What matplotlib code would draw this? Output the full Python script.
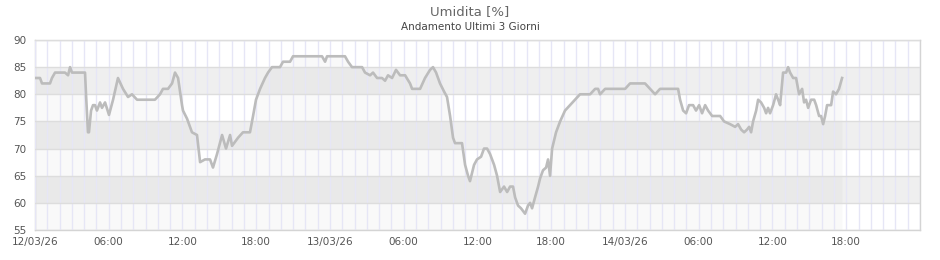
import numpy as np
import pandas as pd
import matplotlib
matplotlib.use("Agg")
import matplotlib.pyplot as plt
import matplotlib.dates as mdates
from matplotlib.ticker import FuncFormatter, MultipleLocator

# hours since 12/03/26 00:00 and humidity readings
ore = [0.0, 0.41, 0.57, 1.22, 1.38, 1.63, 2.44, 2.69, 2.85, 3.01, 4.07, 4.15, 4.31, 4.39,
       4.56, 4.72, 4.88, 5.04, 5.29, 5.45, 5.70, 6.02, 6.35, 6.75, 7.16, 7.57, 7.89, 8.30,
       9.76, 10.17, 10.41, 10.82, 11.15, 11.39, 11.64, 11.96, 12.04, 12.37, 12.77, 13.18,
       13.43, 13.83, 14.24, 14.48, 14.81, 15.22, 15.54, 15.87, 16.03, 16.52, 16.92, 17.49,
       17.74, 17.98, 18.31, 18.71, 18.96, 19.28, 19.93, 20.18, 20.75, 20.99, 23.35, 23.60,
       23.76, 25.22, 25.47, 25.79, 26.61, 26.85, 27.26, 27.50, 27.83, 28.23, 28.48, 28.72,
       29.05, 29.37, 29.70, 30.11, 30.51, 30.68, 31.33, 31.73, 32.14, 32.38, 32.63, 32.95,
       33.28, 33.52, 33.77, 34.01, 34.17, 34.74, 34.99, 35.23, 35.39, 35.72, 35.96, 36.29,
       36.53, 36.78, 37.02, 37.35, 37.59, 37.84, 38.16, 38.41, 38.65, 38.89, 39.06, 39.30,
       39.54, 39.87, 40.11, 40.28, 40.44, 40.68, 40.93, 41.09, 41.33, 41.58, 41.74, 41.90,
       42.07, 42.39, 42.72, 43.12, 43.53, 43.94, 44.34, 45.16, 45.57, 45.81, 45.97, 46.38,
       48.01, 48.41, 49.63, 50.04, 50.45, 50.85, 52.32, 52.48, 52.73, 52.97, 53.21, 53.54,
       53.78, 54.03, 54.27, 54.52, 54.76, 55.09, 55.74, 56.06, 56.55, 56.96, 57.20, 57.45,
       57.69, 57.93, 58.10, 58.26, 58.42, 58.67, 58.83, 59.07, 59.32, 59.48, 59.64, 59.80,
       60.05, 60.29, 60.46, 60.62, 60.86, 61.11, 61.27, 61.43, 61.68, 61.92, 62.16, 62.41,
       62.57, 62.73, 62.90, 63.14, 63.39, 63.55, 63.79, 63.95, 64.12, 64.28, 64.44, 64.77,
       64.93, 65.17, 65.41, 65.66]
umidita = [83, 83, 82, 82, 83, 84, 84, 83.5, 85, 84, 84, 80, 73, 73,
           77, 78, 78, 77, 78.5, 77.5, 78.5, 76.2, 79, 83, 81, 79.5, 80, 79,
           79, 80, 81, 81, 82, 84, 83, 78, 77, 75.5, 73, 72.5,
           67.5, 68, 68, 66.5, 69, 72.5, 70, 72.5, 70.5, 72, 73, 73,
           76, 79, 81, 83, 84, 85, 85, 86, 86, 87, 87, 86,
           87, 87, 86, 85, 85, 84, 83.5, 84, 83, 83, 82.5, 83.5,
           83, 84.5, 83.5, 83.5, 82, 81, 81, 83, 84.5, 85, 84, 82,
           80.5, 79.5, 76, 72, 71, 71, 67, 65, 64, 67, 68, 68.5,
           70, 70, 69, 67, 65, 62, 63, 62, 63, 63, 61, 59.5,
           59, 58, 59.5, 60, 59, 61, 63, 64.5, 66, 66.5, 68, 65,
           70, 73, 75, 77, 78, 79, 80, 80, 81, 81, 80, 81,
           81, 82, 82, 81, 80, 81, 81, 79, 77, 76.5, 78, 78,
           77, 78, 76.5, 78, 77, 76, 76, 75, 74.5, 74, 74.5, 73.5,
           73, 73.5, 74, 73, 75, 77, 79, 78.5, 77.5, 76.5, 77.5, 76.5,
           78, 80, 79, 78, 84, 84, 85, 84, 83, 83, 80, 81,
           78.5, 79, 77.5, 79, 79, 78, 76, 76, 74.5, 76, 78, 78,
           80.5, 80, 81, 83]

titolo = "Umidita [%]"
sottotitolo = "Andamento Ultimi 3 Giorni"
inizio = pd.Timestamp("2026-03-12 00:00")

tempi = inizio + pd.to_timedelta(ore, unit="h")

fig = plt.figure(figsize=(9.4, 2.6), dpi=100)
ax = fig.add_axes([35 / 940, 30 / 260, 885 / 940, 190 / 260])

# fasce alternate
for y0 in range(60, 90, 10):
    ax.axhspan(y0, y0 + 5, color="#efefef", lw=0, zorder=0)

ax.fill_between(tempi, 55, umidita, color="black", alpha=0.025, lw=0, zorder=1)
ax.plot(tempi, umidita, color="#bcbcbc", lw=1.9, zorder=3, solid_joinstyle="round")

ax.set_ylim(55, 90)
ax.set_xlim(inizio, inizio + pd.Timedelta(hours=72))
ax.yaxis.set_major_locator(MultipleLocator(5))
ax.set_xticks(pd.date_range(inizio, periods=12, freq="6h"))
ax.xaxis.set_minor_locator(mdates.HourLocator())


def etichetta(x, pos):
    d = mdates.num2date(x)
    return d.strftime("%d/%m/%y") if d.hour == 0 else d.strftime("%H:%M")


ax.xaxis.set_major_formatter(FuncFormatter(etichetta))

ax.grid(True, axis="x", which="both", color="#e6e6f6", lw=1, zorder=2)
ax.grid(True, axis="y", which="major", color="#dddddd", lw=1, zorder=2)
ax.set_axisbelow(False)

ax.tick_params(which="both", length=0, labelsize=7.5, labelcolor="#555555")
ax.tick_params(axis="x", pad=5)
ax.tick_params(axis="y", pad=6)
for s in ax.spines.values():
    s.set_color("#d4d4d4")
    s.set_linewidth(1)

fig.text(0.5, 1 - 12 / 260, titolo, ha="center", va="center", fontsize=9.5, color="#666666")
fig.text(0.5, 1 - 27 / 260, sottotitolo, ha="center", va="center", fontsize=7.5, color="#444444")

fig.savefig("out.png", dpi=100)
